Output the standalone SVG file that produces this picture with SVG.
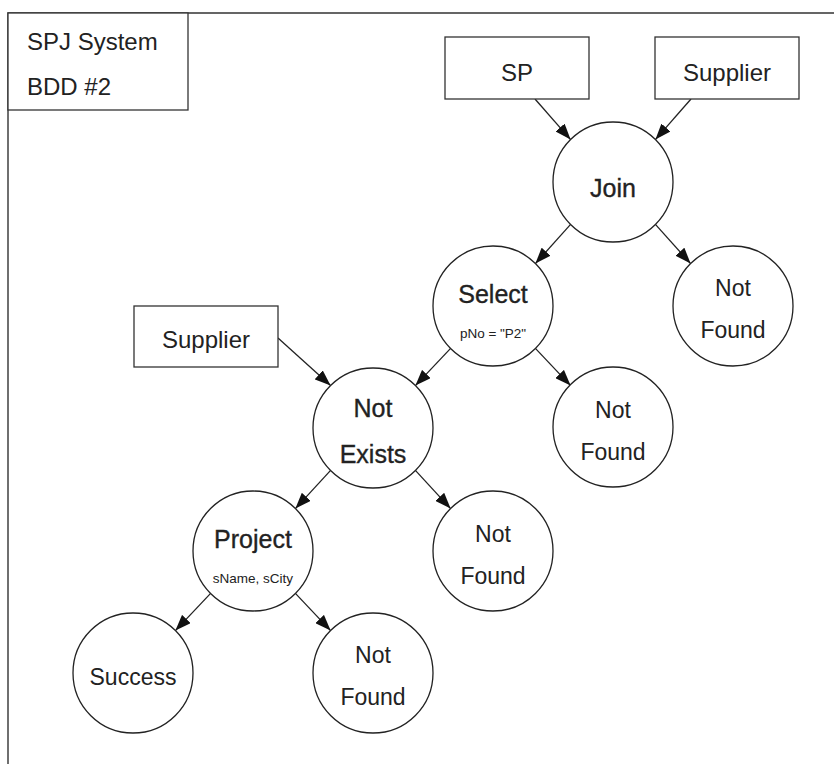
<svg xmlns="http://www.w3.org/2000/svg" width="834" height="764" viewBox="0 0 834 764">
<style>
.frame{fill:none;stroke:#333;stroke-width:1.4}
.box{fill:#fff;stroke:#333;stroke-width:1.3}
.node{fill:#fff;stroke:#222;stroke-width:1.3}
.edge{stroke:#222;stroke-width:1.3;fill:none;marker-end:url(#arr)}
text{font-family:"Liberation Sans",Arial,sans-serif;fill:#222}
.t{font-size:24px}
.b{font-size:24px;text-anchor:middle}
.op{font-size:25px;text-anchor:middle;stroke:#222;stroke-width:0.35}
.lf{font-size:23px;text-anchor:middle}
.s{font-size:13.5px;text-anchor:middle}
</style>
<defs>
<marker id="arr" markerUnits="userSpaceOnUse" markerWidth="16" markerHeight="12" refX="16" refY="6" orient="auto">
<path d="M0,0 L16,6 L0,12 z" fill="#111"/>
</marker>
</defs>
<rect width="834" height="764" fill="#fff"/>
<path class="frame" d="M8,764 L8,13 L834,13"/>
<g id="title">
<rect class="box" x="8" y="13" width="180" height="97"/>
<text class="t" x="27" y="50">SPJ System</text>
<text class="t" x="27" y="95">BDD #2</text>
</g>
<g id="connectors">
<line class="edge" x1="535" y1="99" x2="570.6" y2="139.6"/>
<line class="edge" x1="691" y1="99" x2="655.4" y2="139.6"/>
<line class="edge" x1="570.6" y1="224.4" x2="535.4" y2="263.6"/>
<line class="edge" x1="655.4" y1="224.4" x2="690.6" y2="263.6"/>
<line class="edge" x1="278" y1="338" x2="330.6" y2="385.6"/>
<line class="edge" x1="450.6" y1="348.4" x2="415.4" y2="385.6"/>
<line class="edge" x1="535.4" y1="348.4" x2="570.6" y2="385.6"/>
<line class="edge" x1="330.6" y1="470.4" x2="295.4" y2="508.6"/>
<line class="edge" x1="415.4" y1="470.4" x2="450.6" y2="508.6"/>
<line class="edge" x1="210.6" y1="593.4" x2="175.4" y2="630.6"/>
<line class="edge" x1="295.4" y1="593.4" x2="330.6" y2="630.6"/>
</g>
<g id="sp">
<rect class="box" x="445" y="37" width="144" height="62"/>
<text class="b" x="517" y="81">SP</text>
</g>
<g id="supplier1">
<rect class="box" x="655" y="37" width="144" height="62"/>
<text class="b" x="727" y="81">Supplier</text>
</g>
<g id="supplier2">
<rect class="box" x="134" y="306" width="144" height="61"/>
<text class="b" x="206" y="348">Supplier</text>
</g>
<g id="join">
<circle class="node" cx="613" cy="182" r="60"/>
<text class="op" x="613" y="197">Join</text>
</g>
<g id="select">
<circle class="node" cx="493" cy="306" r="60"/>
<text class="op" x="493" y="303">Select</text>
<text class="s" x="493" y="338">pNo = "P2"</text>
</g>
<g id="notfound1">
<circle class="node" cx="733" cy="306" r="60"/>
<text class="lf" x="733" y="296">Not</text>
<text class="lf" x="733" y="338">Found</text>
</g>
<g id="notexists">
<circle class="node" cx="373" cy="428" r="60"/>
<text class="op" x="373" y="417">Not</text>
<text class="op" x="373" y="463">Exists</text>
</g>
<g id="notfound2">
<circle class="node" cx="613" cy="427" r="60"/>
<text class="lf" x="613" y="418">Not</text>
<text class="lf" x="613" y="460">Found</text>
</g>
<g id="project">
<circle class="node" cx="253" cy="551" r="60"/>
<text class="op" x="253" y="548">Project</text>
<text class="s" x="253" y="583">sName, sCity</text>
</g>
<g id="notfound3">
<circle class="node" cx="493" cy="551" r="60"/>
<text class="lf" x="493" y="542">Not</text>
<text class="lf" x="493" y="584">Found</text>
</g>
<g id="success">
<circle class="node" cx="133" cy="673" r="60"/>
<text class="lf" x="133" y="685">Success</text>
</g>
<g id="notfound4">
<circle class="node" cx="373" cy="673" r="60"/>
<text class="lf" x="373" y="663">Not</text>
<text class="lf" x="373" y="705">Found</text>
</g>
</svg>
